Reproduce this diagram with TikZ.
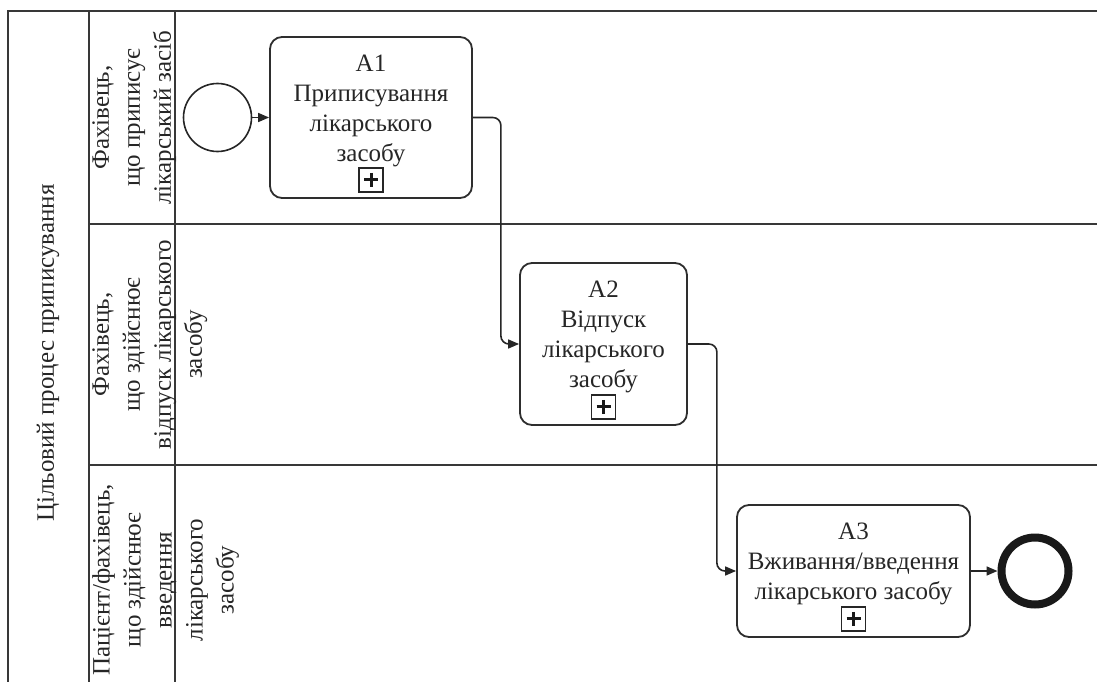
\documentclass[tikz,border=0pt]{standalone}
\usepackage{fontspec}
\setmainfont{Liberation Serif}
\usetikzlibrary{arrows.meta,calc}

\tikzset{
  frame/.style={draw=black!78, line width=1.8pt},
  task/.style={draw=black!82, line width=1.8pt, rounded corners=12pt,
    fill=white, inner sep=0pt},
  tasktext/.style={text=black!85, align=center, inner sep=0pt,
    font=\fontsize{25}{30}\selectfont, anchor=north},
  lanetext/.style={text=black!85, align=center, inner sep=0pt,
    font=\fontsize{25}{31}\selectfont, rotate=90, anchor=north},
  plusbox/.style={draw=black!85, line width=1.3pt, minimum size=24pt,
    inner sep=0pt, fill=white},
  flow/.style={draw=black!85, line width=1.6pt, rounded corners=8pt,
    -{Triangle[length=11pt,width=9pt]}},
  startev/.style={circle, draw=black!85, line width=1.6pt, minimum size=68pt, inner sep=0pt},
  endev/.style={circle, draw=black!90, line width=8pt, minimum size=67pt, inner sep=0pt},
}

% draws the "+" sub-process marker inside a box placed above a task's bottom edge
\newcommand{\submarker}[2]{%
  \node[plusbox] (#2) at ($(#1.south)+(0,-19)$) {};
  \draw[black!90, line width=3pt] ($(#2.center)+(-7,0)$) -- ($(#2.center)+(7,0)$);
  \draw[black!90, line width=3pt] ($(#2.center)+(0,-7)$) -- ($(#2.center)+(0,7)$);
}

\begin{document}
\begin{tikzpicture}[x=1pt,y=-1pt]
\useasboundingbox[fill=white] (0,0) rectangle (1097,682);

% pool and lanes
\draw[frame] (8,682) -- (8,11) -- (1097,11);
\draw[frame] (89,11) -- (89,682);
\draw[frame] (175,11) -- (175,682);
\draw[frame] (89,224) -- (1097,224);
\draw[frame] (89,465) -- (1097,465);

% pool title
\node[text=black!85, rotate=90, font=\fontsize{25}{30}\selectfont, inner sep=0pt]
  (pool) at (48,353) {Цільовий процес приписування};

% lane titles
\node[lanetext] (lane1) at (92,117.5) {Фахівець,\\що приписує\\лікарський засіб};
\node[lanetext] (lane2) at (92,344.5) {Фахівець,\\що здійснює\\відпуск лікарського\\засобу};
\node[lanetext] (lane3) at (92,580) {Пацієнт/фахівець,\\що здійснює\\введення\\лікарського\\засобу};

% events
\node[startev] (start) at (217.5,117.5) {};
\node[endev] (end) at (1035,571) {};

% tasks
\node[task, minimum width=202pt, minimum height=161pt] (A1) at (371,117.5) {};
\node[tasktext] (A1t) at ($(A1.north)+(0,19)$) {A1\\Приписування\\лікарського\\засобу};
\submarker{A1}{A1p}

\node[task, minimum width=167pt, minimum height=162pt] (A2) at (603.5,344) {};
\node[tasktext] (A2t) at ($(A2.north)+(0,19)$) {A2\\Відпуск\\лікарського\\засобу};
\submarker{A2}{A2p}

\node[task, minimum width=233pt, minimum height=132pt] (A3) at (853.5,571) {};
\node[tasktext] (A3t) at ($(A3.north)+(0,19)$) {A3\\Вживання/введення\\лікарського засобу};
\submarker{A3}{A3p}

% sequence flows
\draw[flow] (start.east) -- (A1.west);
\draw[flow] (A1.east) -- ++(28,0) |- (A2.west);
\draw[flow] (A2.east) -- ++(29,0) |- (A3.west);
\draw[flow] (A3.east) -- (end.west);
\end{tikzpicture}
\end{document}
